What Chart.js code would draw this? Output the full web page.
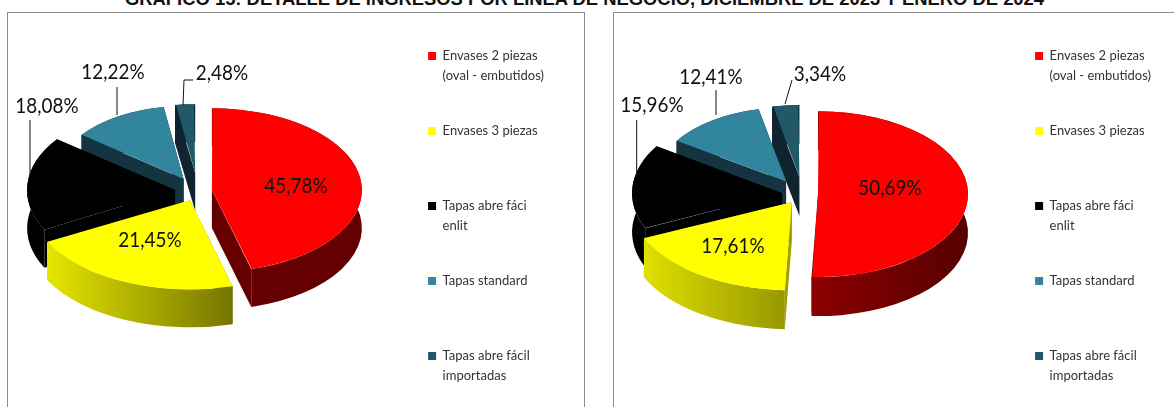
<!DOCTYPE html>
<html>
<head>
<meta charset="utf-8">
<script src="https://cdn.jsdelivr.net/npm/chart.js@4/dist/chart.umd.js"></script>
<style>
  html, body { margin: 0; padding: 0; background: #fff; overflow: hidden; width: 1174px; height: 407px; }
  #title { position: absolute; left: 125px; top: -12px; white-space: nowrap;
           font: bold 18.4px "Liberation Sans", Arial, sans-serif; color: #111; }
  .frame { position: absolute; top: 12px; height: 420px; border: 1px solid #8c8c8c; box-sizing: border-box; }
  canvas { position: absolute; top: 0; }
</style>
</head>
<body>
<div id="title">GRÁFICO 15: DETALLE DE INGRESOS POR LÍNEA DE NEGOCIO, DICIEMBRE DE 2023 Y ENERO DE 2024</div>
<div class="frame" style="left:7px;width:578px"></div>
<div class="frame" style="left:613px;width:600px"></div>
<canvas id="chartDic" width="600" height="460" style="left:0"></canvas>
<canvas id="chartEne" width="610" height="460" style="left:600px"></canvas>
<script>
'use strict';
const categories = [
  ['Envases 2 piezas', '(oval - embutidos)'],
  ['Envases 3 piezas', ''],
  ['Tapas abre fáci', 'enlit'],
  ['Tapas standard', ''],
  ['Tapas abre fácil', 'importadas']
];
const dic2023 = [45.78, 21.45, 18.08, 12.22, 2.48];
const ene2024 = [50.69, 17.61, 15.96, 12.41, 3.34];
const sliceColors = ['#ff0000', '#ffff00', '#000000', '#31859c', '#215968'];

// how each pie is seen: the source is a tilted 3D pie so every slice gets its own radius / squash
const viewDic = {
  cx: 198, cy: 191, depth: 38, tilt: 0.5,
  explode: [14, 20, 23, 28, 36],
  radius: [150, 162, 148, 128, 130],
  squash: [0.545, 0.55, 0.57, 0.57, 0.53],
  walls: [
    ['#680000', '#640000', '#660000'],
    ['#e6e600', '#757500', '#8a8a00'],
    ['#000000', '#000000', '#000000'],
    ['#143441', '#143441', '#143441'],
    ['#0f242e', '#0f242e', '#0f242e']
  ],
  labelAt: [[296, 186], [150, 240], [47, 106], [113, 72], [222, 73]],
  leaders: [null, null, [[30, 120], [30, 178]], [[117, 87], [117, 115]], [[193, 80], [184, 80], [183, 105]]],
  legendRight: 46
};
const viewEne = {
  cx: 203, cy: 194, depth: 39, tilt: 0.5,
  explode: [15, 20, 21, 30, 34],
  radius: [150, 162, 150, 131, 131],
  squash: [0.553, 0.543, 0.57, 0.565, 0.55],
  walls: [
    ['#8c0000', '#560000', '#660000'],
    ['#e0e000', '#949400', '#a0a000'],
    ['#000000', '#000000', '#000000'],
    ['#143441', '#143441', '#143441'],
    ['#0f242e', '#0f242e', '#0f242e']
  ],
  labelAt: [[290, 188], [133, 246], [52, 105], [111, 77], [220, 74]],
  leaders: [null, null, [[36.7, 120], [36.7, 176]], [[116, 90], [116, 115]], [[192, 80], [185, 104]]],
  legendRight: 49
};

function drawSlice(chart, ctx, arc, i, view){
  const a1 = arc.startAngle, a2 = arc.endAngle, mid = (a1 + a2) / 2;
  const off = arc.options.offset;
  const r = view.radius[i], ry = r * view.squash[i], d = view.depth;
  const ax = view.cx + Math.cos(mid) * off;
  const ay = view.cy + Math.sin(mid) * off * view.tilt;
  const px = a => ax + Math.cos(a) * r;
  const py = a => ay + Math.sin(a) * ry;
  const [wallFrom, wallTo, radial] = view.walls[i];

  // radial walls first, the outer wall goes over them
  ctx.fillStyle = radial;
  [a1, a2].forEach(a => {
    ctx.beginPath();
    ctx.moveTo(ax, ay);
    ctx.lineTo(px(a), py(a));
    ctx.lineTo(px(a), py(a) + d);
    ctx.lineTo(ax, ay + d);
    ctx.closePath();
    ctx.fill();
  });
  const xs = [px(a1), px(a2), ax];
  if (a1 < 0 && a2 > 0) xs.push(ax + r);
  const grad = ctx.createLinearGradient(Math.min(...xs), 0, Math.max(...xs), 0);
  grad.addColorStop(0, wallFrom);
  grad.addColorStop(1, wallTo);
  ctx.fillStyle = grad;
  ctx.beginPath();
  ctx.ellipse(ax, ay, r, ry, 0, a1, a2);
  ctx.ellipse(ax, ay + d, r, ry, 0, a2, a1, true);
  ctx.closePath();
  ctx.fill();

  // top face is the library's own arc, put in place with a transform.
  // ArcElement.draw moves by offset/4 and grows the radius by a bit, same numbers here
  const off4 = off / 4;
  const c = a2 - a1;
  const arcR = arc.outerRadius + off4 * (1 - Math.sin(Math.min(Math.PI, c)));
  const sx = r / arcR, sy = ry / arcR;
  ctx.save();
  ctx.translate(ax, ay);
  ctx.scale(sx, sy);
  ctx.translate(-(arc.x + Math.cos(mid) * off4), -(arc.y + Math.sin(mid) * off4));
  arc.draw(ctx);
  ctx.restore();
}

const pie3d = {
  id: 'pie3d',
  beforeDatasetsDraw(chart, args, opts){
    const ctx = chart.ctx;
    const view = opts.view;
    const arcs = chart.getDatasetMeta(0).data;
    // back to front
    [4, 3, 2, 1, 0].forEach(i => drawSlice(chart, ctx, arcs[i], i, view));

    ctx.save();
    ctx.strokeStyle = '#111';
    ctx.lineWidth = 1;
    view.leaders.forEach(points => {
      if (!points) return;
      ctx.beginPath();
      points.forEach((p, n) => n ? ctx.lineTo(p[0], p[1]) : ctx.moveTo(p[0], p[1]));
      ctx.stroke();
    });
    ctx.font = '21px Lato';
    ctx.fillStyle = '#111';
    ctx.textAlign = 'center';
    ctx.textBaseline = 'middle';
    chart.data.datasets[0].data.forEach((v, i) => {
      const text = v.toFixed(2).replace('.', ',') + '%';
      // the original font is narrower than Lato
      ctx.fillText(text, view.labelAt[i][0], view.labelAt[i][1], ctx.measureText(text).width * 0.9);
    });
    ctx.restore();
    return false;
  }
};

function makePie(id, values, view){
  return new Chart(document.getElementById(id), {
    type: 'pie',
    plugins: [pie3d],
    data: {
      labels: categories,
      datasets: [{
        data: values,
        backgroundColor: sliceColors,
        borderWidth: 0,
        offset: view.explode
      }]
    },
    options: {
      responsive: false,
      animation: false,
      radius: 120,
      layout: { padding: { top: 14.5, right: view.legendRight } },
      plugins: {
        pie3d: { view: view },
        tooltip: { enabled: false },
        legend: {
          position: 'right',
          align: 'start',
          labels: {
            boxWidth: 8,
            boxHeight: 8,
            padding: 35,
            color: '#333',
            font: { family: 'Lato', size: 13, lineHeight: '20px' }
          }
        }
      }
    }
  });
}

makePie('chartDic', dic2023, viewDic);
makePie('chartEne', ene2024, viewEne);
</script>
</body>
</html>
